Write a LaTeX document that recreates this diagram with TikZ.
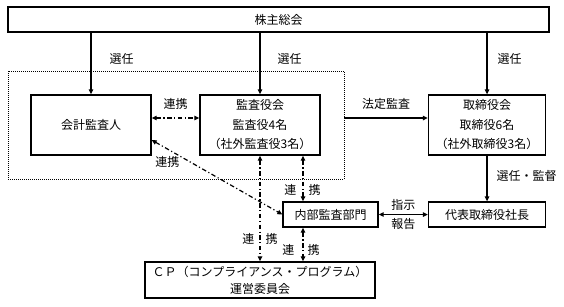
\documentclass[tikz,border=0pt]{standalone}
\usepackage{fontspec}
\setmainfont{Noto Sans CJK JP}
\usetikzlibrary{arrows.meta, positioning}

\begin{document}
\begin{tikzpicture}[x=1pt, y=-1pt,
  box/.style={rectangle, draw, line width=1.3pt, align=center, inner sep=0pt,
    font=\fontsize{12}{19.5}\selectfont},
  frame/.style={rectangle, draw, line width=0.9pt, dash pattern=on 1pt off 1pt, inner sep=0pt},
  sel/.style={-{Triangle[length=5pt, width=4.5pt]}, line width=1.2pt},
  both/.style={{Triangle[length=5pt, width=4.5pt]}-{Triangle[length=5pt, width=4.5pt]}, line width=1.2pt},
  link/.style={both, dash pattern=on 4.5pt off 2.5pt on 1.2pt off 2.5pt},
  lbl/.style={inner sep=1pt, font=\fontsize{12}{13}\selectfont}
]
  \useasboundingbox (0,0) rectangle (564,306);

  % boxes
  \node[box, minimum width=541pt, minimum height=25pt] (soukai) at (278.5,19.5) {株主総会};
  \node[frame, minimum width=336pt, minimum height=108pt] (group) at (176,125) {};
  \node[box, minimum width=120pt, minimum height=60pt] (kaikei) at (91,125) {会計監査人};
  \node[box, minimum width=120pt, minimum height=60pt] (kansa) at (260,125) {監査役会\\監査役4名\\（社外監査役3名）};
  \node[box, minimum width=117pt, minimum height=60pt] (torishimari) at (487,125) {取締役会\\取締役6名\\（社外取締役3名）};
  \node[box, minimum width=95pt, minimum height=25pt] (naibu) at (330.5,214.5) {内部監査部門};
  \node[box, minimum width=117pt, minimum height=25pt] (daihyo) at (487,214.5) {代表取締役社長};
  \node[box, minimum width=230pt, minimum height=36pt, font=\fontsize{12}{17}\selectfont] (cp) at (260,280) {ＣＰ（コンプライアンス・プログラム）\\運営委員会};

  % selection arrows
  \draw[sel] (soukai.south -| kaikei) -- (kaikei.north) node[lbl, pos=0.42, right=17pt] (sen1) {選任};
  \draw[sel] (soukai.south -| kansa) -- (kansa.north) node[lbl, pos=0.42, right=16pt] (sen2) {選任};
  \draw[sel] (soukai.south -| torishimari) -- (torishimari.north) node[lbl, pos=0.42, right=9pt] (sen3) {選任};
  \draw[sel] (torishimari.south) -- (daihyo.north) node[lbl, pos=0.45, right=8pt] (kantoku) {選任・監督};

  % audit
  \draw[sel] ([yshift=7pt]group.east) -- ([yshift=7pt]torishimari.west) node[lbl, midway, above=7pt] (houtei) {法定監査};

  % cooperation links
  \draw[link] ([yshift=7pt]kaikei.east) -- ([yshift=7pt]kansa.west) node[lbl, midway, above=7pt] (ren1) {連携};
  \draw[link] ([yshift=-15pt]kaikei.east) -- (naibu.west) node[lbl, pos=0.12, below=6pt] (ren2) {連携};
  \draw[link] (kansa.south) -- (cp.north)
    node[lbl, pos=0.79, left=4pt] (ren3a) {連} node[lbl, pos=0.79, right=4pt] (ren3b) {携};
  \draw[link] ([xshift=43pt]kansa.south) -- ([xshift=43pt]kansa.south |- naibu.north)
    node[lbl, pos=0.74, left=5pt] (ren4a) {連} node[lbl, pos=0.74, right=4pt] (ren4b) {携};
  \draw[link] ([xshift=-27.5pt]naibu.south) -- ([xshift=-27.5pt]naibu.south |- cp.north)
    node[lbl, pos=0.66, left=7pt] (ren5a) {連} node[lbl, pos=0.66, right=3pt] (ren5b) {携};

  % instruction / report
  \draw[both] (naibu.east) -- (daihyo.west)
    node[lbl, midway, above=2pt] (shiji) {指示} node[lbl, midway, below=2pt] (houkoku) {報告};
\end{tikzpicture}
\end{document}
